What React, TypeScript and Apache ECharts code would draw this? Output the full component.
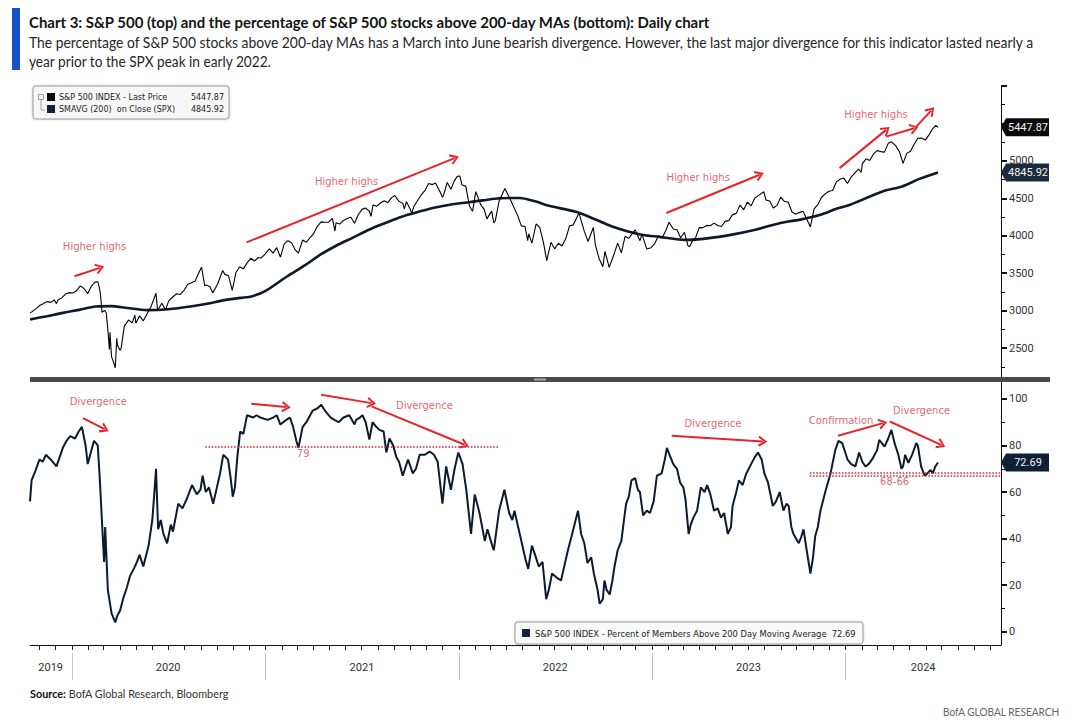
import React, { useEffect, useRef } from "react";
import * as echarts from "echarts";

// ---------- S&P 500 (weekly-ish closes) ----------
const spx2019: [string, number][] = [
  ["2019-10-14", 2966], ["2019-10-18", 2986], ["2019-10-25", 3023], ["2019-11-01", 3067], ["2019-11-08", 3093],
  ["2019-11-15", 3120], ["2019-11-22", 3110], ["2019-11-29", 3141], ["2019-12-03", 3093], ["2019-12-06", 3146],
  ["2019-12-13", 3169], ["2019-12-20", 3221], ["2019-12-27", 3240],
];
const spx2020: [string, number][] = [
  ["2020-01-03", 3235], ["2020-01-10", 3265], ["2020-01-17", 3330], ["2020-01-24", 3295], ["2020-01-31", 3226],
  ["2020-02-07", 3328], ["2020-02-14", 3380], ["2020-02-19", 3386], ["2020-02-21", 3338], ["2020-02-24", 3226],
  ["2020-02-27", 2979], ["2020-03-03", 3003], ["2020-03-06", 2972], ["2020-03-09", 2747], ["2020-03-12", 2481],
  ["2020-03-13", 2711], ["2020-03-16", 2386], ["2020-03-20", 2305], ["2020-03-23", 2237], ["2020-03-26", 2631],
  ["2020-03-27", 2541], ["2020-04-01", 2471], ["2020-04-03", 2489], ["2020-04-09", 2790], ["2020-04-17", 2875],
  ["2020-04-24", 2837], ["2020-04-29", 2940], ["2020-05-01", 2831], ["2020-05-08", 2930], ["2020-05-15", 2864],
  ["2020-05-22", 2955], ["2020-05-29", 3044], ["2020-06-08", 3232], ["2020-06-11", 3002], ["2020-06-19", 3098],
  ["2020-06-26", 3009], ["2020-07-02", 3130], ["2020-07-10", 3185], ["2020-07-17", 3225], ["2020-07-24", 3216],
  ["2020-07-31", 3271], ["2020-08-07", 3351], ["2020-08-14", 3373], ["2020-08-21", 3397], ["2020-08-28", 3508],
  ["2020-09-02", 3580], ["2020-09-08", 3332], ["2020-09-11", 3341], ["2020-09-18", 3319], ["2020-09-23", 3237],
  ["2020-10-02", 3348], ["2020-10-12", 3535], ["2020-10-16", 3484], ["2020-10-23", 3465], ["2020-10-30", 3270],
  ["2020-11-06", 3509], ["2020-11-13", 3585], ["2020-11-20", 3558], ["2020-11-27", 3638], ["2020-12-04", 3699],
  ["2020-12-11", 3663], ["2020-12-18", 3709], ["2020-12-24", 3703], ["2020-12-31", 3756],
];
const spx2021: [string, number][] = [
  ["2021-01-08", 3825], ["2021-01-15", 3768], ["2021-01-22", 3841], ["2021-01-27", 3750], ["2021-01-29", 3714],
  ["2021-02-05", 3887], ["2021-02-12", 3934], ["2021-02-19", 3907], ["2021-02-26", 3811], ["2021-03-04", 3768],
  ["2021-03-12", 3943], ["2021-03-19", 3913], ["2021-03-26", 3975], ["2021-04-01", 4020], ["2021-04-09", 4129],
  ["2021-04-16", 4185], ["2021-04-23", 4180], ["2021-04-30", 4181], ["2021-05-07", 4233], ["2021-05-12", 4063],
  ["2021-05-14", 4174], ["2021-05-21", 4156], ["2021-05-28", 4204], ["2021-06-04", 4230], ["2021-06-11", 4247],
  ["2021-06-18", 4166], ["2021-06-25", 4281], ["2021-07-02", 4352], ["2021-07-09", 4370], ["2021-07-16", 4327],
  ["2021-07-19", 4259], ["2021-07-23", 4412], ["2021-07-30", 4395], ["2021-08-06", 4437], ["2021-08-13", 4468],
  ["2021-08-20", 4442], ["2021-08-27", 4509], ["2021-09-02", 4537], ["2021-09-10", 4459], ["2021-09-17", 4433],
  ["2021-09-20", 4358], ["2021-09-24", 4455], ["2021-10-01", 4357], ["2021-10-04", 4300], ["2021-10-08", 4391],
  ["2021-10-15", 4471], ["2021-10-22", 4545], ["2021-10-29", 4605], ["2021-11-05", 4697], ["2021-11-12", 4683],
  ["2021-11-18", 4704], ["2021-11-26", 4595], ["2021-12-01", 4513], ["2021-12-03", 4538], ["2021-12-10", 4712],
  ["2021-12-17", 4620], ["2021-12-23", 4726], ["2021-12-29", 4793],
];
const spx2022: [string, number][] = [
  ["2022-01-03", 4797], ["2022-01-07", 4677], ["2022-01-14", 4663], ["2022-01-21", 4398], ["2022-01-27", 4326],
  ["2022-02-02", 4589], ["2022-02-11", 4419], ["2022-02-18", 4349], ["2022-02-23", 4225], ["2022-03-04", 4329],
  ["2022-03-08", 4170], ["2022-03-11", 4204], ["2022-03-18", 4463], ["2022-03-29", 4632], ["2022-04-08", 4488],
  ["2022-04-14", 4393], ["2022-04-22", 4272], ["2022-04-29", 4132], ["2022-05-06", 4123], ["2022-05-11", 3935],
  ["2022-05-13", 4024], ["2022-05-19", 3901], ["2022-05-27", 4158], ["2022-06-03", 4109], ["2022-06-10", 3901],
  ["2022-06-16", 3667], ["2022-06-24", 3912], ["2022-07-01", 3825], ["2022-07-08", 3899], ["2022-07-15", 3863],
  ["2022-07-22", 3962], ["2022-07-29", 4130], ["2022-08-05", 4145], ["2022-08-16", 4305], ["2022-08-19", 4228],
  ["2022-08-26", 4058], ["2022-09-02", 3924], ["2022-09-12", 4110], ["2022-09-16", 3873], ["2022-09-23", 3693],
  ["2022-09-30", 3586], ["2022-10-04", 3791], ["2022-10-12", 3577], ["2022-10-21", 3752], ["2022-10-28", 3901],
  ["2022-11-04", 3771], ["2022-11-11", 3993], ["2022-11-18", 3965], ["2022-11-30", 4080], ["2022-12-09", 3934],
  ["2022-12-13", 4019], ["2022-12-22", 3822], ["2022-12-30", 3840],
];
const spx2023: [string, number][] = [
  ["2023-01-06", 3895], ["2023-01-13", 3999], ["2023-01-20", 3973], ["2023-01-27", 4071], ["2023-02-02", 4180],
  ["2023-02-10", 4090], ["2023-02-17", 4079], ["2023-02-24", 3970], ["2023-03-03", 4046], ["2023-03-10", 3862],
  ["2023-03-13", 3855], ["2023-03-17", 3917], ["2023-03-24", 3971], ["2023-03-31", 4109], ["2023-04-06", 4105],
  ["2023-04-14", 4138], ["2023-04-21", 4133], ["2023-04-28", 4169], ["2023-05-05", 4136], ["2023-05-12", 4124],
  ["2023-05-19", 4192], ["2023-05-26", 4205], ["2023-06-02", 4282], ["2023-06-09", 4299], ["2023-06-16", 4410],
  ["2023-06-23", 4348], ["2023-06-30", 4450], ["2023-07-07", 4399], ["2023-07-14", 4505], ["2023-07-21", 4536],
  ["2023-07-31", 4589], ["2023-08-04", 4478], ["2023-08-11", 4464], ["2023-08-18", 4370], ["2023-08-25", 4406],
  ["2023-09-01", 4516], ["2023-09-08", 4457], ["2023-09-15", 4450], ["2023-09-22", 4320], ["2023-09-29", 4288],
  ["2023-10-06", 4309], ["2023-10-13", 4327], ["2023-10-20", 4224], ["2023-10-27", 4117], ["2023-11-03", 4358],
  ["2023-11-10", 4415], ["2023-11-17", 4514], ["2023-11-24", 4559], ["2023-12-01", 4595], ["2023-12-08", 4604],
  ["2023-12-15", 4719], ["2023-12-22", 4755], ["2023-12-29", 4770],
];
const spx2024: [string, number][] = [
  ["2024-01-05", 4697], ["2024-01-12", 4784], ["2024-01-19", 4840], ["2024-01-26", 4891], ["2024-01-31", 4846],
  ["2024-02-02", 4959], ["2024-02-09", 5027], ["2024-02-16", 5006], ["2024-02-23", 5089], ["2024-03-01", 5137],
  ["2024-03-08", 5124], ["2024-03-15", 5117], ["2024-03-22", 5234], ["2024-03-28", 5254], ["2024-04-05", 5204],
  ["2024-04-12", 5123], ["2024-04-19", 4967], ["2024-04-26", 5100], ["2024-05-03", 5128], ["2024-05-10", 5223],
  ["2024-05-17", 5303], ["2024-05-24", 5305], ["2024-05-31", 5278], ["2024-06-07", 5347], ["2024-06-14", 5432],
  ["2024-06-20", 5473], ["2024-06-24", 5447.87],
];

// ---------- 200-day simple moving average on close ----------
const sma2019: [string, number][] = [["2019-10-14", 2882], ["2019-11-15", 2926], ["2019-12-15", 2970]];
const sma2020: [string, number][] = [
  ["2020-01-15", 3010], ["2020-02-15", 3055], ["2020-03-15", 3060], ["2020-04-15", 3035], ["2020-05-22", 3006],
  ["2020-07-01", 3018], ["2020-08-15", 3058], ["2020-09-15", 3095], ["2020-10-15", 3140], ["2020-11-15", 3170],
  ["2020-12-07", 3193], ["2020-12-31", 3260],
];
const sma2021: [string, number][] = [
  ["2021-02-11", 3459], ["2021-03-15", 3600], ["2021-04-15", 3750], ["2021-05-15", 3870], ["2021-06-15", 3975],
  ["2021-07-15", 4080], ["2021-08-15", 4170], ["2021-09-15", 4255], ["2021-10-19", 4325], ["2021-11-15", 4375],
  ["2021-12-15", 4415],
];
const sma2022: [string, number][] = [
  ["2022-01-16", 4445], ["2022-02-15", 4472], ["2022-03-19", 4500], ["2022-04-26", 4505], ["2022-05-25", 4460],
  ["2022-06-20", 4400], ["2022-08-10", 4320], ["2022-09-15", 4220], ["2022-10-15", 4130], ["2022-11-15", 4060],
  ["2022-12-15", 4010],
];
const sma2023: [string, number][] = [
  ["2023-01-15", 3985], ["2023-03-05", 3945], ["2023-04-15", 3965], ["2023-06-01", 4015], ["2023-07-15", 4080],
  ["2023-08-15", 4140], ["2023-09-15", 4190], ["2023-10-08", 4215], ["2023-11-15", 4280], ["2023-12-15", 4360],
];
const sma2024: [string, number][] = [
  ["2024-01-10", 4415], ["2024-02-15", 4520], ["2024-03-15", 4600], ["2024-04-17", 4658], ["2024-05-20", 4760],
  ["2024-06-24", 4845.92],
];

// ---------- % of S&P 500 members above 200-day MA ----------
const pct2019: [string, number][] = [
  ["2019-10-14", 56], ["2019-10-17", 65], ["2019-10-24", 69], ["2019-11-01", 74], ["2019-11-07", 73],
  ["2019-11-13", 76], ["2019-11-22", 74], ["2019-12-03", 71], ["2019-12-09", 75], ["2019-12-15", 79],
  ["2019-12-22", 82], ["2019-12-29", 84],
];
const pct2020: [string, number][] = [
  ["2020-01-07", 83], ["2020-01-14", 86], ["2020-01-20", 88], ["2020-01-27", 80], ["2020-01-31", 72],
  ["2020-02-07", 78], ["2020-02-12", 82], ["2020-02-19", 80], ["2020-02-23", 65], ["2020-02-27", 47],
  ["2020-03-02", 30], ["2020-03-04", 45], ["2020-03-09", 18], ["2020-03-16", 8], ["2020-03-23", 4],
  ["2020-03-27", 7], ["2020-04-01", 9], ["2020-04-08", 15], ["2020-04-14", 19], ["2020-04-20", 24],
  ["2020-04-27", 27], ["2020-05-03", 30], ["2020-05-08", 33], ["2020-05-15", 28], ["2020-05-25", 37],
  ["2020-06-01", 48], ["2020-06-05", 60], ["2020-06-08", 70], ["2020-06-12", 44], ["2020-06-17", 48],
  ["2020-06-22", 42], ["2020-06-29", 38], ["2020-07-06", 46], ["2020-07-10", 43], ["2020-07-20", 55],
  ["2020-07-28", 53], ["2020-08-05", 57], ["2020-08-15", 63], ["2020-08-24", 59], ["2020-08-31", 61],
  ["2020-09-04", 67], ["2020-09-10", 60], ["2020-09-16", 62], ["2020-09-24", 55], ["2020-10-01", 62],
  ["2020-10-07", 68], ["2020-10-13", 76], ["2020-10-22", 74], ["2020-10-27", 66], ["2020-10-31", 58],
  ["2020-11-04", 62], ["2020-11-09", 76], ["2020-11-14", 86], ["2020-11-20", 85], ["2020-11-27", 93],
  ["2020-12-08", 92], ["2020-12-15", 93], ["2020-12-22", 92],
];
const pct2021: [string, number][] = [
  ["2021-01-05", 91], ["2021-01-15", 92], ["2021-01-22", 93], ["2021-01-29", 89], ["2021-02-09", 91],
  ["2021-02-16", 92], ["2021-02-22", 88], ["2021-02-28", 82], ["2021-03-04", 79], ["2021-03-12", 88],
  ["2021-03-19", 90], ["2021-03-31", 95], ["2021-04-09", 96], ["2021-04-16", 97.5], ["2021-04-23", 95],
  ["2021-05-04", 92], ["2021-05-11", 91], ["2021-05-19", 90], ["2021-05-28", 92], ["2021-06-08", 93],
  ["2021-06-18", 89], ["2021-06-21", 91], ["2021-06-28", 92], ["2021-07-03", 93], ["2021-07-09", 90],
  ["2021-07-16", 82.5], ["2021-07-22", 90], ["2021-07-29", 88], ["2021-08-04", 86.7], ["2021-08-12", 86],
  ["2021-08-17", 77], ["2021-08-23", 83], ["2021-08-30", 80], ["2021-09-05", 75], ["2021-09-10", 73],
  ["2021-09-17", 67], ["2021-09-27", 74], ["2021-10-06", 68], ["2021-10-12", 70], ["2021-10-19", 76],
  ["2021-10-28", 76], ["2021-11-07", 77.4], ["2021-11-15", 76], ["2021-11-22", 73], ["2021-12-01", 55],
  ["2021-12-08", 71], ["2021-12-17", 61], ["2021-12-24", 70], ["2021-12-31", 77],
];
const pct2022: [string, number][] = [
  ["2022-01-08", 72], ["2022-01-15", 61], ["2022-01-24", 42], ["2022-01-31", 59], ["2022-02-09", 51],
  ["2022-02-19", 39], ["2022-02-24", 44], ["2022-03-05", 37], ["2022-03-08", 35], ["2022-03-18", 52],
  ["2022-03-28", 61], ["2022-04-06", 51], ["2022-04-12", 48], ["2022-04-16", 52], ["2022-04-27", 41],
  ["2022-05-07", 31], ["2022-05-12", 27], ["2022-05-19", 37], ["2022-05-25", 33], ["2022-06-01", 28],
  ["2022-06-08", 30], ["2022-06-15", 14], ["2022-06-20", 18], ["2022-06-26", 25], ["2022-07-06", 23],
  ["2022-07-13", 22], ["2022-07-20", 29], ["2022-07-26", 35], ["2022-08-03", 42], ["2022-08-14", 52],
  ["2022-08-20", 42], ["2022-08-26", 38], ["2022-09-01", 29.5], ["2022-09-08", 32], ["2022-09-13", 25],
  ["2022-09-20", 18], ["2022-09-24", 12], ["2022-09-30", 14], ["2022-10-03", 22], ["2022-10-07", 18],
  ["2022-10-13", 16], ["2022-10-18", 22], ["2022-10-22", 28], ["2022-10-28", 35], ["2022-11-04", 39],
  ["2022-11-10", 50], ["2022-11-13", 55], ["2022-11-18", 58], ["2022-11-23", 65], ["2022-11-30", 66],
  ["2022-12-05", 61], ["2022-12-09", 60], ["2022-12-15", 50], ["2022-12-22", 52], ["2022-12-28", 51],
];
const pct2023: [string, number][] = [
  ["2023-01-04", 56], ["2023-01-10", 67], ["2023-01-19", 68], ["2023-01-25", 74], ["2023-01-29", 79],
  ["2023-02-03", 76], ["2023-02-10", 72], ["2023-02-17", 70], ["2023-02-23", 64], ["2023-03-01", 62],
  ["2023-03-05", 57], ["2023-03-11", 42], ["2023-03-15", 46], ["2023-03-20", 49], ["2023-03-27", 52],
  ["2023-04-03", 62], ["2023-04-10", 60], ["2023-04-15", 63], ["2023-04-21", 59], ["2023-04-28", 52],
  ["2023-05-05", 53], ["2023-05-11", 49], ["2023-05-17", 51], ["2023-05-24", 42], ["2023-05-30", 45],
  ["2023-06-02", 54], ["2023-06-09", 60], ["2023-06-14", 65], ["2023-06-21", 63], ["2023-06-28", 68],
  ["2023-07-07", 72], ["2023-07-14", 75], ["2023-07-20", 77], ["2023-07-27", 74], ["2023-08-01", 68],
  ["2023-08-08", 64], ["2023-08-17", 54], ["2023-08-23", 56], ["2023-08-30", 60], ["2023-09-06", 52],
  ["2023-09-12", 55], ["2023-09-16", 54], ["2023-09-21", 45], ["2023-09-25", 42], ["2023-10-05", 38],
  ["2023-10-10", 41], ["2023-10-14", 44], ["2023-10-20", 35], ["2023-10-27", 25], ["2023-11-01", 32],
  ["2023-11-05", 41], ["2023-11-10", 45], ["2023-11-15", 52], ["2023-11-24", 60], ["2023-12-04", 68],
  ["2023-12-13", 78], ["2023-12-19", 82], ["2023-12-26", 81], ["2023-12-29", 79],
];
const pct2024: [string, number][] = [
  ["2024-01-05", 74], ["2024-01-12", 72], ["2024-01-20", 71], ["2024-01-27", 77], ["2024-02-02", 73],
  ["2024-02-08", 71], ["2024-02-14", 72], ["2024-02-22", 74.6], ["2024-03-01", 78], ["2024-03-05", 82.4],
  ["2024-03-15", 79.5], ["2024-03-22", 83], ["2024-03-28", 86.7], ["2024-04-03", 81], ["2024-04-10", 76],
  ["2024-04-16", 70], ["2024-04-19", 71], ["2024-04-23", 76], ["2024-04-29", 72.5], ["2024-05-06", 76],
  ["2024-05-14", 81], ["2024-05-17", 80], ["2024-05-23", 71], ["2024-05-30", 67], ["2024-06-04", 68],
  ["2024-06-10", 69.5], ["2024-06-14", 68], ["2024-06-19", 71], ["2024-06-24", 72.69],
];

// ---------- axes ----------
const xStart = "2019-10-14";
const xEnd = "2024-10-21";
const spxTicks = [2500, 3000, 3500, 4000, 4500, 5000, 5500, 6000];
const spxMinorTicks = [2250, 2750, 3250, 3750, 4250, 4750, 5250, 5750];
const spxLabels = [2500, 3000, 3500, 4000, 4500, 5000];
const pctTicks = [0, 20, 40, 60, 80, 100];
const pctMinorTicks = [10, 30, 50, 70, 90];
const yearLabelDates = ["2019-11-22", "2020-07-01", "2021-07-02", "2022-07-02", "2023-07-02", "2024-05-27"];
const yearStartDates = ["2020-01-01", "2021-01-01", "2022-01-01", "2023-01-01", "2024-01-01"];

// ---------- annotations ----------
const topArrows: [string, number, string, number][] = [
  ["2020-01-06", 3459, "2020-02-23", 3571],
  ["2020-11-26", 3912, "2021-12-24", 5037],
  ["2023-01-28", 4304, "2023-07-23", 4814],
  ["2023-12-21", 4903, "2024-03-18", 5414],
  ["2024-03-18", 5324, "2024-05-10", 5436],
  ["2024-05-14", 5458, "2024-06-11", 5671],
];
const topNotes: [string, string, number][] = [
  ["Higher highs", "2020-02-13", 3859],
  ["Higher highs", "2021-06-03", 4725],
  ["Higher highs", "2023-03-29", 4783],
  ["Higher highs", "2024-02-28", 5614],
];
const bottomArrows: [string, number, string, number][] = [
  ["2020-01-22", 91.8, "2020-03-03", 87],
  ["2020-12-05", 97.9, "2021-02-09", 96.5],
  ["2021-04-16", 101.8, "2021-07-20", 98.2],
  ["2021-07-20", 96.8, "2022-01-12", 80.3],
  ["2023-02-07", 84.2, "2023-07-29", 81.7],
  ["2023-12-18", 84.2, "2024-03-12", 89.6],
  ["2024-03-25", 90.3, "2024-06-30", 80.3],
];
const bottomNotes: [string, string, number][] = [
  ["Divergence", "2020-02-20", 98.9],
  ["Divergence", "2021-10-28", 97.1],
  ["Divergence", "2023-04-26", 89.6],
  ["Confirmation", "2023-12-24", 90.7],
  ["Divergence", "2024-05-24", 95],
  ["79", "2021-03-13", 76.7],
  ["68-66", "2024-04-03", 64.5],
];
const levelLines: [string, string, number][] = [
  ["2020-09-09", "2022-03-19", 79.6],
  ["2023-10-26", "2024-10-21", 68.4],
  ["2023-10-26", "2024-10-21", 67.2],
];

// ---------- helpers ----------
const P = (s: string): number => {
  const [y, m, d] = s.split("-").map(Number);
  return new Date(y, m - 1, d).getTime();
};
const toSeries = (arr: [string, number][]) => arr.map(([d, v]) => [P(d), v]);

const spxAll = [...spx2019, ...spx2020, ...spx2021, ...spx2022, ...spx2023, ...spx2024];
const smaAll = [...sma2019, ...sma2020, ...sma2021, ...sma2022, ...sma2023, ...sma2024];
const pctAll = [...pct2019, ...pct2020, ...pct2021, ...pct2022, ...pct2023, ...pct2024];
const spxLast = spxAll[spxAll.length - 1][1];
const smaLast = smaAll[smaAll.length - 1][1];
const pctLast = pctAll[pctAll.length - 1][1];

const RED = "#e8232b";
const NOTE_RED = "#dc3b45";
const CHEVRON = "path://M0 9 L5 0 L10 9 L8.3 10 L5 3.6 L1.7 10 Z";

function monthTicks(): number[] {
  const out: number[] = [];
  for (let y = 2019; y <= 2024; y++) {
    for (let m = 1; m <= 12; m++) {
      const t = new Date(y, m - 1, 1).getTime();
      if (t > P(xStart) && t < P(xEnd)) out.push(t);
    }
  }
  return out;
}

function measure(text: string, font: string): number {
  const ctx = document.createElement("canvas").getContext("2d") as CanvasRenderingContext2D;
  ctx.font = font;
  return ctx.measureText(text).width;
}

function fitText(text: string, font: string, x: number, y: number, target: number, fill: string, z = 10) {
  return {
    type: "text",
    x,
    y,
    scaleX: target / measure(text, font),
    z,
    style: { text, font, fill, align: "left", verticalAlign: "middle" },
  };
}

function arrowData(list: [string, number, string, number][]) {
  return list.map(([d1, v1, d2, v2]) => [
    { coord: [P(d1), v1], symbol: "none" },
    { coord: [P(d2), v2], symbol: CHEVRON, symbolSize: [11, 9] },
  ]);
}

function levelData(list: [string, string, number][]) {
  return list.map(([d1, d2, v]) => [
    { coord: [P(d1), v], symbol: "none", lineStyle: { type: "dotted", color: "#d0283a", width: 1.6 } },
    { coord: [P(d2), v], symbol: "none", lineStyle: { type: "dotted", color: "#d0283a", width: 1.6 } },
  ]);
}

function noteData(list: [string, string, number][]) {
  return list.map(([t, d, v]) => ({ name: t, value: [P(d), v] }));
}

const axisFont = { fontFamily: "Roboto", fontSize: 11, color: "#333" };

function xAxisBase(gridIndex: number) {
  return { type: "value", gridIndex, min: P(xStart), max: P(xEnd), scale: true, splitLine: { show: false } };
}

function buildOption() {
  return {
    animation: false,
    backgroundColor: "#ffffff",
    grid: [
      { left: 30, width: 971, top: 86, height: 292 },
      { left: 30, width: 971, top: 381, height: 264 },
    ],
    xAxis: [
      { ...xAxisBase(0), show: false },
      {
        ...xAxisBase(1),
        position: "bottom",
        axisLine: { show: true, onZero: false, lineStyle: { color: "#111", width: 1 } },
        axisTick: { show: true, customValues: monthTicks(), length: 5, lineStyle: { color: "#222" } },
        axisLabel: {
          show: true,
          customValues: yearLabelDates.map(P),
          formatter: (v: number) => String(new Date(v).getFullYear()),
          margin: 17,
          ...axisFont,
        },
      },
      {
        ...xAxisBase(1),
        position: "bottom",
        offset: 8,
        axisLine: { show: false, onZero: false },
        axisTick: { show: true, customValues: yearStartDates.map(P), length: 27, lineStyle: { color: "#c4c4c4" } },
        axisLabel: { show: false },
      },
    ],
    yAxis: [
      {
        type: "value",
        gridIndex: 0,
        position: "right",
        min: 2100,
        max: 6000,
        axisLine: { show: true, onZero: false, lineStyle: { color: "#111" } },
        axisTick: { show: true, customValues: spxTicks, length: 6, lineStyle: { color: "#111", width: 2 } },
        axisLabel: { show: true, customValues: spxLabels, margin: 8, formatter: (v: number) => String(v), ...axisFont },
        splitLine: { show: false },
      },
      {
        type: "value",
        gridIndex: 0,
        position: "right",
        min: 2100,
        max: 6000,
        axisLine: { show: false, onZero: false },
        axisTick: { show: true, customValues: spxMinorTicks, length: 4, lineStyle: { color: "#111" } },
        axisLabel: { show: false },
        splitLine: { show: false },
      },
      {
        type: "value",
        gridIndex: 1,
        position: "right",
        min: -5.7,
        max: 107.7,
        axisLine: { show: true, onZero: false, lineStyle: { color: "#111" } },
        axisTick: { show: true, customValues: pctTicks, length: 6, lineStyle: { color: "#111", width: 2 } },
        axisLabel: { show: true, customValues: pctTicks, margin: 8, formatter: (v: number) => String(v), ...axisFont },
        splitLine: { show: false },
      },
      {
        type: "value",
        gridIndex: 1,
        position: "right",
        min: -5.7,
        max: 107.7,
        axisLine: { show: false, onZero: false },
        axisTick: { show: true, customValues: pctMinorTicks, length: 4, lineStyle: { color: "#111" } },
        axisLabel: { show: false },
        splitLine: { show: false },
      },
    ],
    series: [
      {
        type: "line",
        name: "SMAVG (200) on Close (SPX)",
        xAxisIndex: 0,
        yAxisIndex: 0,
        data: toSeries(smaAll),
        symbol: "none",
        smooth: 0.3,
        lineStyle: { color: "#0e1a29", width: 2.6 },
        z: 2,
      },
      {
        type: "line",
        name: "S&P 500 INDEX - Last Price",
        xAxisIndex: 0,
        yAxisIndex: 0,
        data: toSeries(spxAll),
        symbol: "none",
        lineStyle: { color: "#000", width: 1.1 },
        z: 3,
        markLine: {
          silent: true,
          symbol: ["none", CHEVRON],
          label: { show: false },
          lineStyle: { color: RED, width: 2, type: "solid" },
          emphasis: { disabled: true },
          data: arrowData(topArrows),
        },
      },
      {
        type: "line",
        name: "Percent of Members Above 200 Day Moving Average",
        xAxisIndex: 1,
        yAxisIndex: 2,
        data: toSeries(pctAll),
        symbol: "none",
        lineStyle: { color: "#0c1b2e", width: 2 },
        z: 3,
        markLine: {
          silent: true,
          symbol: ["none", CHEVRON],
          label: { show: false },
          lineStyle: { color: RED, width: 2, type: "solid" },
          emphasis: { disabled: true },
          data: [...levelData(levelLines), ...arrowData(bottomArrows)],
        },
      },
      {
        type: "scatter",
        xAxisIndex: 0,
        yAxisIndex: 0,
        data: noteData(topNotes),
        symbolSize: 1,
        itemStyle: { color: "transparent" },
        silent: true,
        z: 5,
        label: {
          show: true,
          position: "inside",
          formatter: (p: any) => p.name,
          color: NOTE_RED,
          fontFamily: "DejaVu Sans",
          fontSize: 10,
        },
      },
      {
        type: "scatter",
        xAxisIndex: 1,
        yAxisIndex: 2,
        data: noteData(bottomNotes),
        symbolSize: 1,
        itemStyle: { color: "transparent" },
        silent: true,
        z: 5,
        label: {
          show: true,
          position: "inside",
          formatter: (p: any) => p.name,
          color: NOTE_RED,
          fontFamily: "DejaVu Sans",
          fontSize: 10,
        },
      },
    ],
  };
}

function badge(id: string, y: number, label: string, fill: string) {
  const x0 = 1001;
  return {
    type: "group",
    id,
    children: [
      {
        type: "polygon",
        shape: { points: [[x0, y], [x0 + 5, y - 9], [x0 + 48, y - 9], [x0 + 48, y + 9], [x0 + 5, y + 9]] },
        style: { fill },
        z: 20,
      },
      {
        type: "text",
        x: x0 + 27,
        y,
        z: 21,
        style: { text: label, fill: "#f2f2f2", font: "11px Roboto", align: "center", verticalAlign: "middle" },
      },
    ],
  };
}

function buildGraphics(chart: any) {
  const titleFont = 'bold 15px "Lato"';
  const subFont = '14.5px "Lato"';
  const title = "Chart 3: S&P 500 (top) and the percentage of S&P 500 stocks above 200-day MAs (bottom): Daily chart";
  const sub1 =
    "The percentage of S&P 500 stocks above 200-day MAs has a March into June bearish divergence. However, the last major divergence for this indicator lasted nearly a";
  const sub2 = "year prior to the SPX peak in early 2022.";

  const srcBold = "Source:";
  const srcRest = " BofA Global Research, Bloomberg";
  const srcW = measure(srcBold, 'bold 11.5px "Lato"') + measure(srcRest, '11.5px "Lato"');

  const legFont = '8px "DejaVu Sans"';
  const yS = chart.convertToPixel({ yAxisIndex: 0 }, spxLast) as number;
  const yM = chart.convertToPixel({ yAxisIndex: 0 }, smaLast) as number;
  const yP = chart.convertToPixel({ yAxisIndex: 2 }, pctLast) as number;

  const bottomLegend = `S&P 500 INDEX - Percent of Members Above 200 Day Moving Average  ${pctLast.toFixed(2)}`;

  return [
    { type: "rect", shape: { x: 12, y: 8, width: 8, height: 62 }, style: { fill: "#1650c8" }, z: 10 },
    fitText(title, titleFont, 29, 21.5, 683, "#141414"),
    fitText(sub1, subFont, 29, 42, 1008, "#262626"),
    fitText(sub2, subFont, 29, 61, 243, "#262626"),
    {
      type: "text",
      x: 30,
      y: 693,
      scaleX: 199 / srcW,
      z: 10,
      style: {
        text: `{b|${srcBold}}{r|${srcRest}}`,
        verticalAlign: "middle",
        rich: {
          b: { font: 'bold 11.5px "Lato"', fill: "#111" },
          r: { font: '11.5px "Lato"', fill: "#333" },
        },
      },
    },
    fitText("BofA GLOBAL RESEARCH", '11.5px "Lato"', 943, 711, 117, "#666"),

    // separator between panels
    { type: "rect", shape: { x: 30, y: 377, width: 1020, height: 5 }, style: { fill: "#4a4a4a" }, z: 15 },
    { type: "rect", shape: { x: 534, y: 378.5, width: 12, height: 2 }, style: { fill: "#a8a8a8" }, z: 16 },

    // top legend
    {
      type: "rect",
      shape: { x: 33, y: 86, width: 196, height: 33, r: 3 },
      style: { fill: "#f7f7f7", stroke: "#9a9a9a", lineWidth: 1, shadowBlur: 2, shadowColor: "rgba(0,0,0,0.25)" },
      z: 12,
    },
    { type: "rect", shape: { x: 38.5, y: 94.5, width: 5, height: 5 }, style: { fill: "none", stroke: "#888", lineWidth: 0.8 }, z: 13 },
    { type: "polyline", shape: { points: [[41, 99.5], [41, 110], [45, 110]] }, style: { stroke: "#888", lineWidth: 0.8, fill: "none" }, z: 13 },
    { type: "rect", shape: { x: 47, y: 93, width: 8, height: 8 }, style: { fill: "#0a0a0a" }, z: 13 },
    { type: "rect", shape: { x: 47, y: 105, width: 8, height: 8 }, style: { fill: "#13233a" }, z: 13 },
    { type: "text", x: 59, y: 97.5, z: 13, style: { text: "S&P 500 INDEX - Last Price", font: legFont, fill: "#222", verticalAlign: "middle" } },
    { type: "text", x: 224, y: 97.5, z: 13, style: { text: spxLast.toFixed(2), font: legFont, fill: "#222", align: "right", verticalAlign: "middle" } },
    { type: "text", x: 59, y: 109.5, z: 13, style: { text: "SMAVG (200)  on Close (SPX)", font: legFont, fill: "#222", verticalAlign: "middle" } },
    { type: "text", x: 224, y: 109.5, z: 13, style: { text: smaLast.toFixed(2), font: legFont, fill: "#222", align: "right", verticalAlign: "middle" } },

    // bottom legend
    {
      type: "rect",
      shape: { x: 515, y: 622, width: 348, height: 22, r: 3 },
      style: { fill: "#f9f9f9", stroke: "#9a9a9a", lineWidth: 1, shadowBlur: 2, shadowColor: "rgba(0,0,0,0.25)" },
      z: 12,
    },
    { type: "rect", shape: { x: 522, y: 629, width: 8, height: 8 }, style: { fill: "#13233a" }, z: 13 },
    fitText(bottomLegend, '8.5px "DejaVu Sans"', 535, 633.5, 321, "#222", 14),

    badge("b1", yS, spxLast.toFixed(2), "#0b0b0b"),
    badge("b2", yM, smaLast.toFixed(2), "#1b2a3c"),
    badge("b3", yP, pctLast.toFixed(2), "#0f2036"),
  ];
}

export default function App() {
  const ref = useRef<HTMLDivElement>(null);
  useEffect(() => {
    const chart = echarts.init(ref.current as HTMLDivElement, null, { renderer: "svg" });
    chart.setOption(buildOption() as any);
    chart.setOption({ graphic: buildGraphics(chart) } as any);
    return () => chart.dispose();
  }, []);
  return (
    <div
      ref={ref}
      style={{ position: "fixed", left: 0, top: 0, width: 1075, height: 720, background: "#fff" }}
    />
  );
}
